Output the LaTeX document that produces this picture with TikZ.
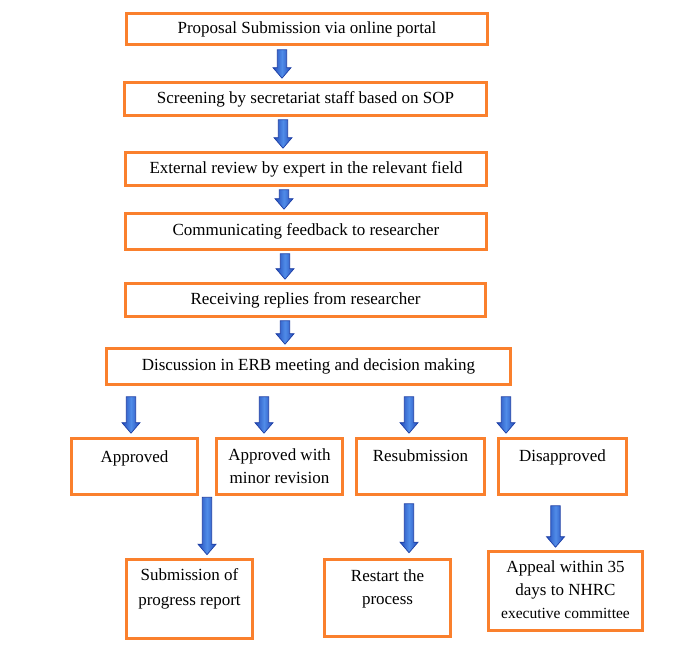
\documentclass[tikz,border=0pt]{standalone}
\usepackage{fontspec}
\setmainfont{Liberation Serif}
\usetikzlibrary{calc}
\definecolor{orng}{RGB}{250,128,45}
\definecolor{adark}{RGB}{35,75,185}
\definecolor{alight}{RGB}{80,140,232}
\definecolor{aedge}{RGB}{28,62,165}
\newcommand\tbt[4]{\parbox[c][#2pt][t]{#1pt}{\centering\vspace*{#3pt}#4}}
\newcommand\barrow[2]{\shade[left color=adark,right color=adark,middle color=alight,draw=aedge,line width=0.7pt]
  let \p1=(#1), \p2=(#2) in
  (\x1-4.7pt,\y1) -- (\x1+4.7pt,\y1) -- (\x1+4.7pt,\y2+10.5pt) -- (\x1+9pt,\y2+10.5pt)
  -- (\x1,\y2) -- (\x1-9pt,\y2+10.5pt) -- (\x1-4.7pt,\y2+10.5pt) -- cycle;}
\tikzset{
  box/.style={draw=orng, line width=3.6pt, fill=white, inner sep=0pt,
    font=\fontsize{17}{23}\selectfont},
}
\begin{document}
\begin{tikzpicture}[x=1pt,y=-1pt]
\fill[white] (0,0) rectangle (680,657);
\useasboundingbox (0,0) rectangle (680,657);
% main chain
\node[box, minimum width=361, minimum height=31] (p1) at (307,29) {Proposal Submission via online portal};
\node[box, minimum width=362, minimum height=33] (p2) at (305.5,99) {Screening by secretariat staff based on SOP};
\node[box, minimum width=361, minimum height=33] (p3) at (306,169) {External review by expert in the relevant field};
\node[box, minimum width=361, minimum height=36] (p4) at (306,231.5) {Communicating feedback to researcher};
\node[box, minimum width=360, minimum height=33] (p5) at (305.5,300) {Receiving replies from researcher};
\node[box, minimum width=404, minimum height=36] (p6) at (308.5,366.5) {Discussion in ERB meeting and decision making};
% decisions
\node[box] (apr) at (134.5,466.5) {\tbt{126}{56}{7.5}{\strut Approved}};
\node[box] (amr) at (279.5,466.5) {\tbt{126}{56}{5.5}{\strut Approved with\\ minor revision}};
\node[box] (res) at (420.5,466.5) {\tbt{128}{56}{7}{\strut Resubmission}};
\node[box] (dis) at (562.5,466.5) {\tbt{128}{56}{7}{\strut Disapproved}};
% outcomes
\node[box] (sub) at (189.5,599) {\tbt{126}{79}{5}{\strut Submission of\\[2pt] progress report}};
\node[box] (rst) at (387.5,598) {\tbt{126}{77}{6}{\strut Restart the\\ process}};
\node[box] (app) at (565.5,591) {\tbt{154}{79}{5}{\strut Appeal within 35\\ days to NHRC\\ {\fontsize{15.5}{23}\selectfont executive committee}}};
% arrows
\barrow{$(p1.south)+(-25,3.5)$}{$(p2.north)+(-23.5,-2.5)$}
\barrow{$(p2.south)+(-22.5,2.5)$}{$(p3.north)+(-23,-2.5)$}
\barrow{$(p3.south)+(-22,2.5)$}{$(p4.north)+(-22,-2.5)$}
\barrow{$(p4.south)+(-21,2.5)$}{$(p5.north)+(-20.5,-2.5)$}
\barrow{$(p5.south)+(-20.5,2.5)$}{$(p6.north)+(-23.5,-2.5)$}
\barrow{$(p6.south)+(-177.5,10.5)$}{$(apr.north)+(-3.5,-3.5)$}
\barrow{$(p6.south)+(-44.5,10.5)$}{$(amr.north)+(-15.5,-3.5)$}
\barrow{$(p6.south)+(100.5,10.5)$}{$(res.north)+(-11.5,-3.5)$}
\barrow{$(p6.south)+(197.5,10.5)$}{$(dis.north)+(-56.5,-3.5)$}
\barrow{$(apr.south)+(72.5,1)$}{$(sub.north)+(17.5,-3)$}
\barrow{$(res.south)+(-11.5,7.5)$}{$(rst.north)+(21.5,-5)$}
\barrow{$(dis.south)+(-7,9.5)$}{$(app.north)+(-10,-2.5)$}
\end{tikzpicture}
\end{document}
